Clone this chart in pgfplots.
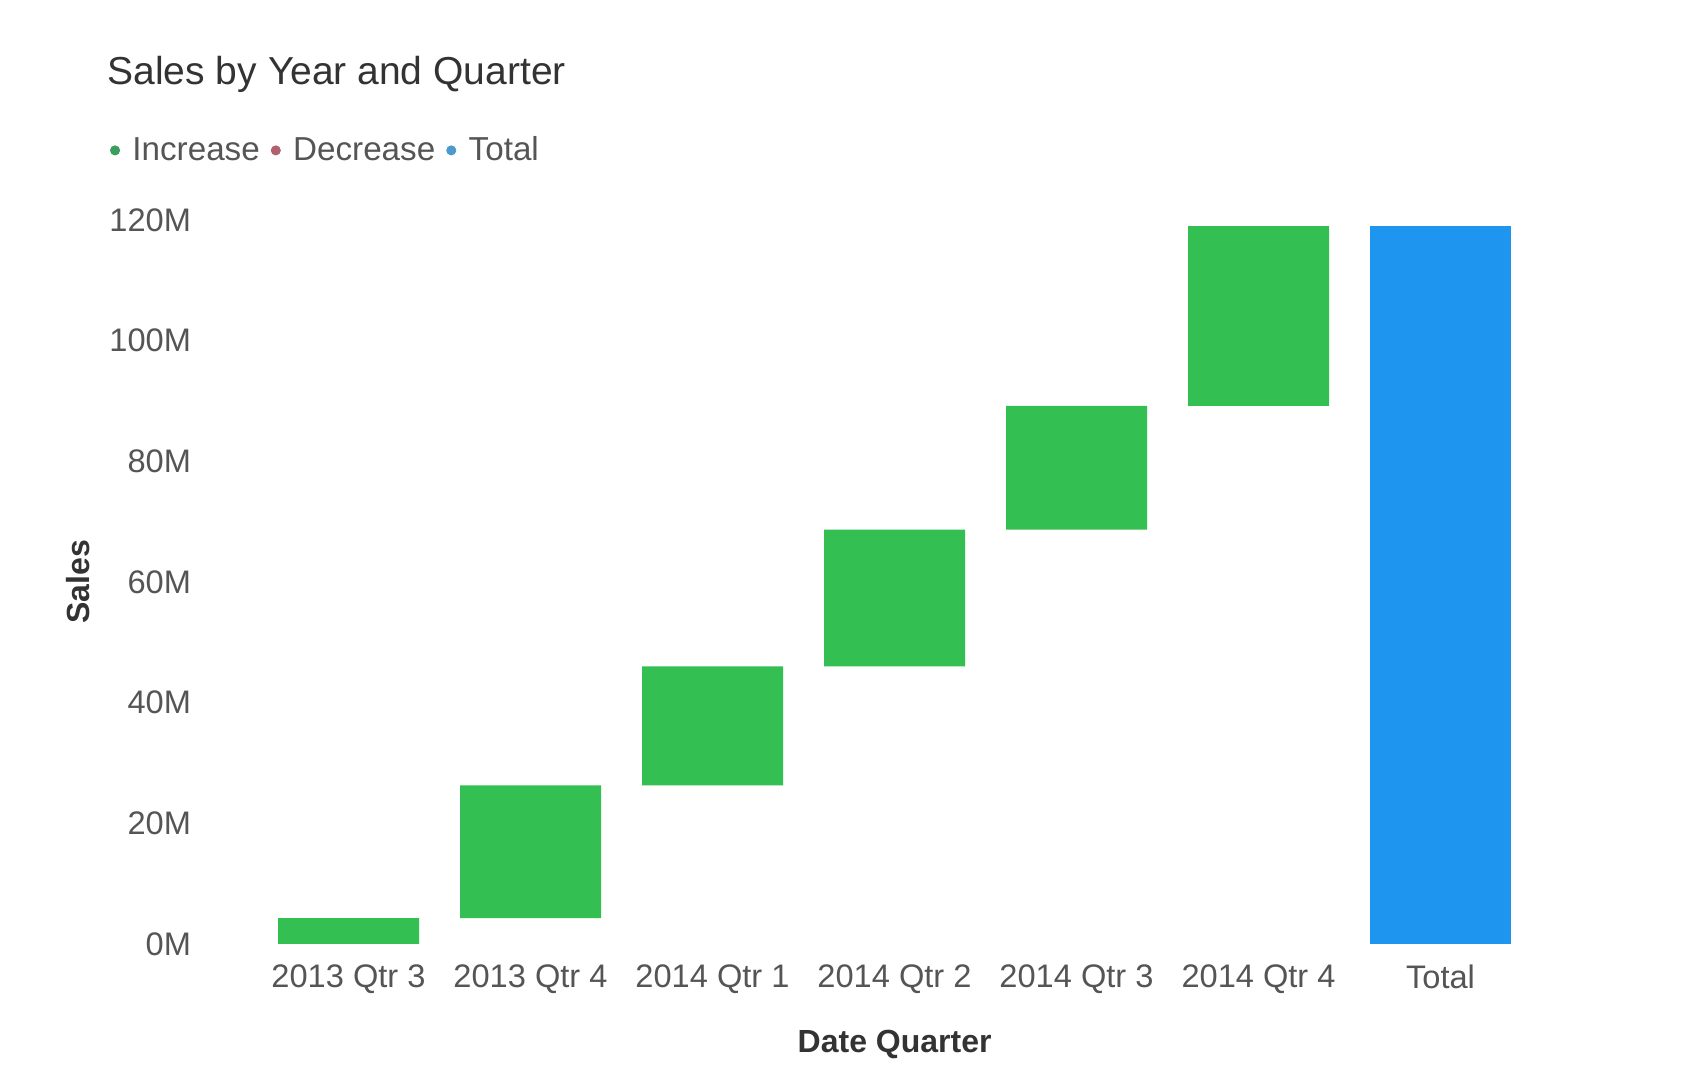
\documentclass[border=0pt]{standalone}
\usepackage{pgfplots}
\pgfplotsset{compat=1.18}
\usepackage{pgfplotstable}
\usepackage{fontspec}
\setmainfont{Liberation Sans}
\definecolor{incbar}{HTML}{33BF52}
\definecolor{totbar}{HTML}{1E96F0}
\definecolor{incdot}{HTML}{3A9E5C}
\definecolor{decdot}{HTML}{B0606E}
\definecolor{totdot}{HTML}{4A9ACD}
\definecolor{ticktext}{HTML}{555555}
\definecolor{titletext}{HTML}{333333}

% categories: 0..6 ; base (invisible), increase, total  (values in millions)
\pgfplotstableread{
x base inc tot
0 0     4.3  0
1 4.3   22.0 0
2 26.3  19.7 0
3 46.0  22.7 0
4 68.7  20.5 0
5 89.2  29.8 0
6 0     0    119.0
}\salesdata

\begin{document}
\begin{tikzpicture}
\fill[white] (-106pt,-58pt) rectangle (739pt,478pt);
\path[use as bounding box] (-106pt,-58pt) rectangle (739pt,478pt);
\begin{axis}[
  scale only axis,
  width=668.85pt, height=374pt,
  xmin=-0.75, xmax=6.6,
  ymin=-2, ymax=122,
  ybar stacked,
  bar width=70.5pt,
  axis line style={draw=none},
  major tick length=0pt,
  xtick={0,1,2,3,4,5,6},
  xticklabels={2013 Qtr 3,2013 Qtr 4,2014 Qtr 1,2014 Qtr 2,2014 Qtr 3,2014 Qtr 4,Total},
  ytick={0,20,40,60,80,100,120},
  yticklabels={0M,20M,40M,60M,80M,100M,120M},
  ticklabel style={font=\fontsize{16.3}{19}\selectfont, text=ticktext},
  yticklabel style={xshift=-7pt},
  xticklabel style={yshift=-1pt},
  xlabel={Date Quarter},
  ylabel={Sales},
  xlabel style={font=\bfseries\fontsize{16}{19}\selectfont, text=titletext,
     at={(axis description cs:0.5103,0)}, anchor=center, yshift=-44pt},
  ylabel style={font=\bfseries\fontsize{16}{19}\selectfont, text=titletext,
     at={(axis description cs:-0.1002,0.5)}, anchor=center},
  title={Sales by Year and Quarter},
  title style={font=\fontsize{19.5}{23}\selectfont, text=titletext,
     at={(axis description cs:-0.0833,1.163)}, anchor=west},
  legend columns=3,
  legend style={draw=none, fill=none, at={(axis description cs:-0.0765,1.077)}, anchor=west,
     font=\fontsize{16.6}{19}\selectfont, text=ticktext, inner sep=0pt,
     /tikz/every even column/.append style={column sep=3.5pt}},
]
\addlegendimage{legend image code/.code={\path[draw=none,fill=none] (0pt,-0.1pt) rectangle (9pt,0.1pt); \fill[incdot] (2.3pt,0pt) circle (2.3pt);}}
\addlegendentry{Increase}
\addlegendimage{legend image code/.code={\path[draw=none,fill=none] (0pt,-0.1pt) rectangle (9pt,0.1pt); \fill[decdot] (2.3pt,0pt) circle (2.3pt);}}
\addlegendentry{Decrease}
\addlegendimage{legend image code/.code={\path[draw=none,fill=none] (0pt,-0.1pt) rectangle (9pt,0.1pt); \fill[totdot] (2.3pt,0pt) circle (2.3pt);}}
\addlegendentry{Total}
\addplot[draw=none, fill=none, forget plot] table[x=x, y=base] {\salesdata};
\addplot[draw=none, fill=incbar, forget plot] table[x=x, y=inc] {\salesdata};
\addplot[draw=none, fill=totbar, forget plot] table[x=x, y=tot] {\salesdata};
\end{axis}
\end{tikzpicture}
\end{document}
